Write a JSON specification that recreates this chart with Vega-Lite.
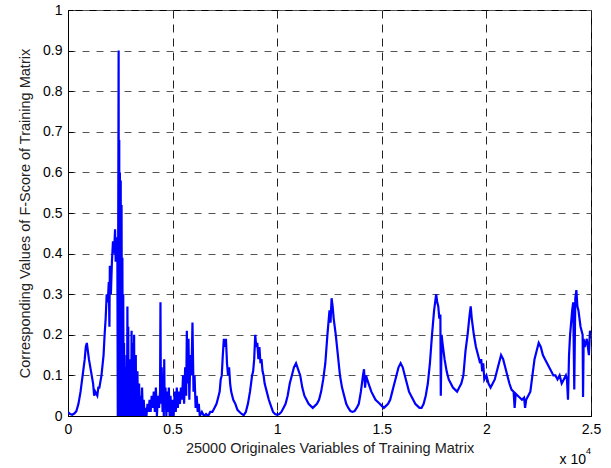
{
  "$schema": "https://vega.github.io/schema/vega-lite/v6.json",
  "autosize": "none",
  "width": 523,
  "height": 406,
  "padding": {"left": 68, "top": 10, "right": 20, "bottom": 52},
  "background": "white",
  "config": {
    "view": {"stroke": "#000", "strokeWidth": 1},
    "font": "Liberation Sans",
    "axis": {
      "domainColor": "#000",
      "tickColor": "#000",
      "tickSize": -5,
      "labelPadding": 11,
      "labelColor": "#000",
      "labelFontSize": 14,
      "labelFlush": false,
      "labelOverlap": false,
      "labelFont": "Liberation Sans",
      "titleFont": "Liberation Sans",
      "titleFontSize": 14.5,
      "titleFontWeight": "normal",
      "titleColor": "#222",
      "titleLimit": 1000,
      "grid": true,
      "gridOpacity": 1
    },
    "axisX": {"gridColor": "#222", "gridDash": [8, 6]},
    "axisY": {"gridColor": "#555", "gridDash": [7, 7]}
  },
  "layer": [
    {
      "data": {"values": [
        {"x":0.00,"y":0.01},{"x":0.01,"y":0.005},{"x":0.02,"y":0.003},{"x":0.03,"y":0.006},{"x":0.04,"y":0.012},{"x":0.05,"y":0.03},{"x":0.06,"y":0.06},{"x":0.07,"y":0.1},{"x":0.08,"y":0.14},{"x":0.085,"y":0.17},{"x":0.09,"y":0.18},{"x":0.095,"y":0.16},{"x":0.10,"y":0.14},{"x":0.11,"y":0.11},{"x":0.12,"y":0.08},{"x":0.125,"y":0.05},{"x":0.13,"y":0.06},{"x":0.14,"y":0.05},{"x":0.145,"y":0.07},{"x":0.15,"y":0.07},{"x":0.16,"y":0.1},{"x":0.17,"y":0.15},{"x":0.175,"y":0.2},{"x":0.18,"y":0.24},{"x":0.185,"y":0.3},{"x":0.19,"y":0.28},{"x":0.195,"y":0.33},{"x":0.198,"y":0.22},{"x":0.20,"y":0.37},{"x":0.205,"y":0.3},{"x":0.21,"y":0.38},{"x":0.215,"y":0.43},{"x":0.22,"y":0.4},{"x":0.225,"y":0.46},{"x":0.228,"y":0.38},{"x":0.232,"y":0.44},{"x":0.236,"y":0.40},{"x":0.238,"y":0.0},{"x":0.240,"y":0.45},{"x":0.242,"y":0.90},{"x":0.243,"y":0.2},{"x":0.245,"y":0.68},{"x":0.246,"y":0.0},{"x":0.248,"y":0.60},{"x":0.250,"y":0.1},{"x":0.252,"y":0.58},{"x":0.254,"y":0.0},{"x":0.256,"y":0.52},{"x":0.258,"y":0.05},{"x":0.260,"y":0.39},{"x":0.262,"y":0.0},{"x":0.264,"y":0.3},{"x":0.266,"y":0.02},{"x":0.268,"y":0.18},{"x":0.270,"y":0.0},{"x":0.272,"y":0.12},{"x":0.274,"y":0.0},{"x":0.276,"y":0.08},{"x":0.278,"y":0.0},{"x":0.280,"y":0.15},{"x":0.282,"y":0.0},{"x":0.284,"y":0.27},{"x":0.286,"y":0.02},{"x":0.288,"y":0.22},{"x":0.290,"y":0.0},{"x":0.292,"y":0.1},{"x":0.294,"y":0.0},{"x":0.296,"y":0.14},{"x":0.298,"y":0.0},{"x":0.300,"y":0.09},{"x":0.302,"y":0.0},{"x":0.304,"y":0.21},{"x":0.306,"y":0.0},{"x":0.308,"y":0.12},{"x":0.310,"y":0.0},{"x":0.312,"y":0.18},{"x":0.314,"y":0.02},{"x":0.316,"y":0.2},{"x":0.318,"y":0.0},{"x":0.320,"y":0.1},{"x":0.322,"y":0.0},{"x":0.324,"y":0.15},{"x":0.326,"y":0.0},{"x":0.328,"y":0.08},{"x":0.330,"y":0.0},{"x":0.332,"y":0.11},{"x":0.334,"y":0.0},{"x":0.336,"y":0.06},{"x":0.338,"y":0.0},{"x":0.340,"y":0.08},{"x":0.342,"y":0.0},{"x":0.346,"y":0.05},{"x":0.350,"y":0.0},{"x":0.354,"y":0.07},{"x":0.358,"y":0.0},{"x":0.362,"y":0.04},{"x":0.366,"y":0.0},{"x":0.37,"y":0.02},{"x":0.375,"y":0.0},{"x":0.38,"y":0.03},{"x":0.385,"y":0.01},{"x":0.39,"y":0.04},{"x":0.395,"y":0.01},{"x":0.40,"y":0.05},{"x":0.405,"y":0.02},{"x":0.41,"y":0.06},{"x":0.415,"y":0.01},{"x":0.42,"y":0.07},{"x":0.425,"y":0.0},{"x":0.43,"y":0.05},{"x":0.435,"y":0.02},{"x":0.44,"y":0.06},{"x":0.442,"y":0.28},{"x":0.444,"y":0.03},{"x":0.448,"y":0.12},{"x":0.452,"y":0.01},{"x":0.456,"y":0.08},{"x":0.458,"y":0.0},{"x":0.46,"y":0.14},{"x":0.462,"y":0.02},{"x":0.466,"y":0.07},{"x":0.47,"y":0.0},{"x":0.474,"y":0.06},{"x":0.478,"y":0.01},{"x":0.482,"y":0.07},{"x":0.486,"y":0.0},{"x":0.49,"y":0.05},{"x":0.495,"y":0.0},{"x":0.50,"y":0.04},{"x":0.505,"y":0.0},{"x":0.51,"y":0.06},{"x":0.515,"y":0.01},{"x":0.52,"y":0.07},{"x":0.525,"y":0.02},{"x":0.53,"y":0.06},{"x":0.535,"y":0.03},{"x":0.54,"y":0.07},{"x":0.545,"y":0.04},{"x":0.55,"y":0.1},{"x":0.555,"y":0.03},{"x":0.56,"y":0.12},{"x":0.565,"y":0.05},{"x":0.568,"y":0.21},{"x":0.572,"y":0.08},{"x":0.576,"y":0.19},{"x":0.58,"y":0.04},{"x":0.585,"y":0.15},{"x":0.59,"y":0.1},{"x":0.595,"y":0.23},{"x":0.60,"y":0.06},{"x":0.605,"y":0.1},{"x":0.61,"y":0.02},{"x":0.615,"y":0.05},{"x":0.62,"y":0.01},{"x":0.625,"y":0.03},{"x":0.63,"y":0.0},{"x":0.64,"y":0.01},{"x":0.65,"y":0.0},{"x":0.66,"y":0.005},{"x":0.67,"y":0.0},{"x":0.68,"y":0.01},{"x":0.69,"y":0.01},{"x":0.70,"y":0.02},{"x":0.71,"y":0.03},{"x":0.72,"y":0.05},{"x":0.725,"y":0.06},{"x":0.73,"y":0.09},{"x":0.735,"y":0.1},{"x":0.74,"y":0.15},{"x":0.745,"y":0.19},{"x":0.75,"y":0.17},{"x":0.755,"y":0.19},{"x":0.76,"y":0.13},{"x":0.765,"y":0.1},{"x":0.77,"y":0.12},{"x":0.775,"y":0.08},{"x":0.78,"y":0.06},{"x":0.785,"y":0.05},{"x":0.79,"y":0.04},{"x":0.80,"y":0.03},{"x":0.81,"y":0.015},{"x":0.82,"y":0.01},{"x":0.83,"y":0.005},{"x":0.84,"y":0.002},{"x":0.85,"y":0.01},{"x":0.86,"y":0.03},{"x":0.87,"y":0.06},{"x":0.875,"y":0.08},{"x":0.88,"y":0.1},{"x":0.885,"y":0.11},{"x":0.89,"y":0.14},{"x":0.895,"y":0.2},{"x":0.90,"y":0.17},{"x":0.905,"y":0.18},{"x":0.91,"y":0.14},{"x":0.915,"y":0.17},{"x":0.92,"y":0.13},{"x":0.925,"y":0.14},{"x":0.93,"y":0.11},{"x":0.935,"y":0.1},{"x":0.94,"y":0.08},{"x":0.95,"y":0.06},{"x":0.96,"y":0.04},{"x":0.97,"y":0.025},{"x":0.98,"y":0.01},{"x":0.99,"y":0.005},{"x":1.00,"y":0.003},{"x":1.01,"y":0.005},{"x":1.02,"y":0.01},{"x":1.03,"y":0.02},{"x":1.04,"y":0.03},{"x":1.05,"y":0.05},{"x":1.06,"y":0.08},{"x":1.07,"y":0.1},{"x":1.08,"y":0.12},{"x":1.09,"y":0.13},{"x":1.10,"y":0.115},{"x":1.11,"y":0.1},{"x":1.12,"y":0.07},{"x":1.13,"y":0.05},{"x":1.14,"y":0.04},{"x":1.15,"y":0.03},{"x":1.16,"y":0.025},{"x":1.17,"y":0.02},{"x":1.18,"y":0.025},{"x":1.19,"y":0.03},{"x":1.20,"y":0.04},{"x":1.21,"y":0.06},{"x":1.22,"y":0.09},{"x":1.23,"y":0.13},{"x":1.24,"y":0.2},{"x":1.25,"y":0.26},{"x":1.255,"y":0.23},{"x":1.26,"y":0.29},{"x":1.265,"y":0.27},{"x":1.27,"y":0.24},{"x":1.28,"y":0.2},{"x":1.29,"y":0.15},{"x":1.30,"y":0.1},{"x":1.31,"y":0.07},{"x":1.32,"y":0.05},{"x":1.33,"y":0.03},{"x":1.34,"y":0.02},{"x":1.35,"y":0.012},{"x":1.36,"y":0.01},{"x":1.37,"y":0.012},{"x":1.38,"y":0.02},{"x":1.39,"y":0.03},{"x":1.40,"y":0.06},{"x":1.41,"y":0.1},{"x":1.415,"y":0.115},{"x":1.42,"y":0.07},{"x":1.425,"y":0.1},{"x":1.43,"y":0.09},{"x":1.44,"y":0.075},{"x":1.45,"y":0.06},{"x":1.46,"y":0.05},{"x":1.47,"y":0.04},{"x":1.48,"y":0.035},{"x":1.49,"y":0.03},{"x":1.50,"y":0.025},{"x":1.51,"y":0.02},{"x":1.52,"y":0.025},{"x":1.53,"y":0.03},{"x":1.54,"y":0.04},{"x":1.55,"y":0.06},{"x":1.56,"y":0.08},{"x":1.57,"y":0.1},{"x":1.58,"y":0.12},{"x":1.59,"y":0.13},{"x":1.60,"y":0.12},{"x":1.61,"y":0.1},{"x":1.62,"y":0.08},{"x":1.63,"y":0.06},{"x":1.64,"y":0.05},{"x":1.65,"y":0.04},{"x":1.66,"y":0.03},{"x":1.67,"y":0.025},{"x":1.68,"y":0.02},{"x":1.69,"y":0.02},{"x":1.70,"y":0.03},{"x":1.71,"y":0.05},{"x":1.72,"y":0.08},{"x":1.73,"y":0.13},{"x":1.74,"y":0.2},{"x":1.75,"y":0.26},{"x":1.76,"y":0.3},{"x":1.765,"y":0.28},{"x":1.77,"y":0.27},{"x":1.775,"y":0.24},{"x":1.78,"y":0.25},{"x":1.782,"y":0.05},{"x":1.786,"y":0.2},{"x":1.79,"y":0.18},{"x":1.80,"y":0.14},{"x":1.81,"y":0.11},{"x":1.82,"y":0.09},{"x":1.83,"y":0.08},{"x":1.84,"y":0.07},{"x":1.85,"y":0.065},{"x":1.86,"y":0.06},{"x":1.87,"y":0.07},{"x":1.88,"y":0.08},{"x":1.89,"y":0.1},{"x":1.90,"y":0.16},{"x":1.91,"y":0.2},{"x":1.92,"y":0.25},{"x":1.925,"y":0.27},{"x":1.93,"y":0.24},{"x":1.935,"y":0.22},{"x":1.94,"y":0.2},{"x":1.95,"y":0.17},{"x":1.96,"y":0.15},{"x":1.97,"y":0.13},{"x":1.975,"y":0.14},{"x":1.98,"y":0.11},{"x":1.985,"y":0.13},{"x":1.99,"y":0.09},{"x":2.00,"y":0.1},{"x":2.01,"y":0.08},{"x":2.02,"y":0.07},{"x":2.03,"y":0.08},{"x":2.04,"y":0.09},{"x":2.05,"y":0.11},{"x":2.06,"y":0.13},{"x":2.07,"y":0.15},{"x":2.08,"y":0.14},{"x":2.09,"y":0.12},{"x":2.10,"y":0.1},{"x":2.11,"y":0.08},{"x":2.12,"y":0.065},{"x":2.13,"y":0.06},{"x":2.135,"y":0.02},{"x":2.14,"y":0.055},{"x":2.15,"y":0.05},{"x":2.16,"y":0.045},{"x":2.17,"y":0.04},{"x":2.18,"y":0.045},{"x":2.185,"y":0.02},{"x":2.19,"y":0.04},{"x":2.20,"y":0.05},{"x":2.21,"y":0.06},{"x":2.22,"y":0.1},{"x":2.23,"y":0.14},{"x":2.24,"y":0.16},{"x":2.25,"y":0.18},{"x":2.26,"y":0.17},{"x":2.27,"y":0.15},{"x":2.28,"y":0.14},{"x":2.29,"y":0.13},{"x":2.30,"y":0.12},{"x":2.31,"y":0.11},{"x":2.32,"y":0.1},{"x":2.33,"y":0.1},{"x":2.34,"y":0.09},{"x":2.35,"y":0.1},{"x":2.36,"y":0.08},{"x":2.37,"y":0.09},{"x":2.38,"y":0.1},{"x":2.385,"y":0.09},{"x":2.39,"y":0.04},{"x":2.395,"y":0.15},{"x":2.40,"y":0.2},{"x":2.41,"y":0.26},{"x":2.415,"y":0.28},{"x":2.42,"y":0.065},{"x":2.425,"y":0.29},{"x":2.43,"y":0.31},{"x":2.435,"y":0.27},{"x":2.44,"y":0.26},{"x":2.45,"y":0.22},{"x":2.46,"y":0.2},{"x":2.462,"y":0.047},{"x":2.465,"y":0.19},{"x":2.47,"y":0.17},{"x":2.48,"y":0.19},{"x":2.49,"y":0.15},{"x":2.495,"y":0.21},{"x":2.50,"y":0.19}
      ]},
      "mark": {"type": "line", "color": "#0000ff", "strokeWidth": 2.2, "clip": true},
      "encoding": {
        "x": {"field": "x", "type": "quantitative",
              "scale": {"domain": [0, 2.5], "nice": false, "zero": false},
              "axis": {"values": [0, 0.5, 1, 1.5, 2, 2.5], "format": "~g", "title": "25000 Originales Variables of Training Matrix", "titlePadding": 5}},
        "y": {"field": "y", "type": "quantitative",
              "scale": {"domain": [0, 1], "nice": false},
              "axis": {"values": [0, 0.1, 0.2, 0.3, 0.4, 0.5, 0.6, 0.7, 0.8, 0.9, 1], "format": "~g", "title": "Corresponding Values of F-Score of Training Matrix", "titlePadding": 10}}
      }
    },
    {
      "data": {"values": [{"label": "x 10"}]},
      "mark": {"type": "text", "align": "right", "baseline": "middle", "fontSize": 14, "color": "#000", "dx": -5, "dy": 44},
      "encoding": {
        "x": {"datum": 2.5, "type": "quantitative"},
        "y": {"datum": 0, "type": "quantitative"},
        "text": {"field": "label"}
      }
    },
    {
      "data": {"values": [{"label": "4"}]},
      "mark": {"type": "text", "align": "right", "baseline": "middle", "fontSize": 9, "color": "#000", "dx": 0, "dy": 35},
      "encoding": {
        "x": {"datum": 2.5, "type": "quantitative"},
        "y": {"datum": 0, "type": "quantitative"},
        "text": {"field": "label"}
      }
    }
  ]
}
